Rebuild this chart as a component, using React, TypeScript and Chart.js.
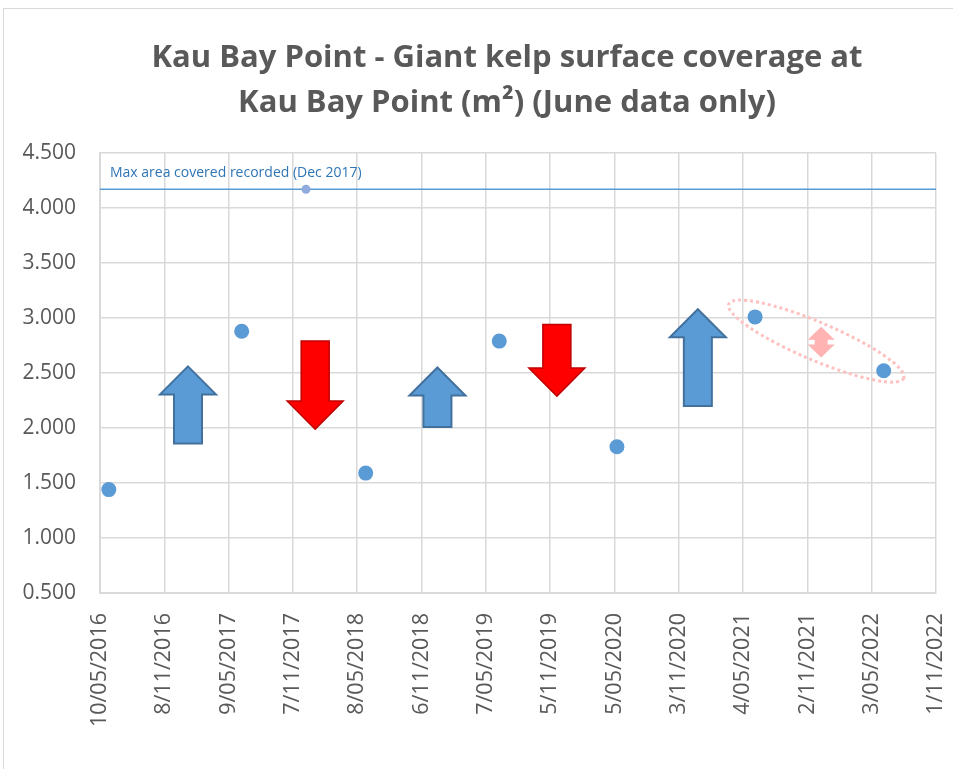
import React, { useEffect, useRef } from 'react';
import { Chart, registerables } from 'chart.js';

Chart.register(...registerables);

// ---------- data ----------
const titleLines = ['Kau Bay Point - Giant kelp surface coverage at', 'Kau Bay Point (m²) (June data only)'];

const axisStart = '2016-05-10';
const axisEnd = '2022-11-01';
const tickStepDays = 182;
const yMin = 0.5;
const yMax = 4.5;
const yStep = 0.5;

const sampleDates = ['2016-06-04', '2017-06-15', '2018-06-01', '2019-06-14', '2020-05-12', '2021-06-07', '2022-06-06'];
const sampleValues = [1.44, 2.88, 1.59, 2.79, 1.83, 3.01, 2.52];

const maxLabel = 'Max area covered recorded (Dec 2017)';
const maxDate = '2017-12-14';
const maxValue = 4.17;

// trend arrows (annotations): date of arrow centre, tail value, tip value
const arrowDates = ['2017-01-14', '2018-01-09', '2018-12-21', '2019-11-24', '2020-12-27'];
const arrowTails = [1.86, 2.79, 2.01, 2.94, 2.2];
const arrowTips = [2.56, 1.99, 2.55, 2.29, 3.08];

// stable change marker (ellipse + up/down arrow)
const ellipseDate = '2021-11-27';
const ellipseValue = 2.79;
const stableDate = '2021-12-11';
const stableTop = 2.92;
const stableBottom = 2.64;

// ---------- helpers ----------
const DAY = 86400000;
const toMs = (s: string) => {
  const [y, m, d] = s.split('-').map(Number);
  return Date.UTC(y, m - 1, d);
};
const startMs = toMs(axisStart);
const dayOf = (s: string) => Math.round((toMs(s) - startMs) / DAY);
const fmtDate = (v: number) => {
  const d = new Date(startMs + Math.round(v) * DAY);
  return `${d.getUTCDate()}/${String(d.getUTCMonth() + 1).padStart(2, '0')}/${d.getUTCFullYear()}`;
};

const FONT = '"Open Sans", "Noto Sans", sans-serif';
const TEXT_COLOR = '#595959';
const GRID_COLOR = '#D9D9D9';
const BLUE = '#5B9BD5';

const annotationPlugin = {
  id: 'kelpAnnotations',
  afterDatasetsDraw(chart: any) {
    const { ctx, scales, chartArea } = chart;
    const xs = scales.x;
    const ys = scales.y;
    ctx.save();

    // max label
    const yLine = ys.getPixelForValue(maxValue);
    ctx.font = `14px ${FONT}`;
    ctx.fillStyle = '#2E75B6';
    ctx.textAlign = 'left';
    ctx.textBaseline = 'middle';
    ctx.fillText(maxLabel, chartArea.left + 10, yLine - 16);

    // arrows
    const shaftHalf = 14;
    const headHalf = 28;
    const headLen = 28;
    arrowDates.forEach((d, i) => {
      const cx = xs.getPixelForValue(dayOf(d));
      const yTail = ys.getPixelForValue(arrowTails[i]);
      const yTip = ys.getPixelForValue(arrowTips[i]);
      const s = yTip > yTail ? 1 : -1; // 1 = pointing down
      const base = yTip - s * headLen;
      ctx.beginPath();
      ctx.moveTo(cx, yTip);
      ctx.lineTo(cx + headHalf, base);
      ctx.lineTo(cx + shaftHalf, base);
      ctx.lineTo(cx + shaftHalf, yTail);
      ctx.lineTo(cx - shaftHalf, yTail);
      ctx.lineTo(cx - shaftHalf, base);
      ctx.lineTo(cx - headHalf, base);
      ctx.closePath();
      const up = s < 0;
      ctx.fillStyle = up ? BLUE : '#FF0000';
      ctx.fill();
      ctx.lineJoin = 'miter';
      ctx.lineWidth = up ? 2 : 1.5;
      ctx.strokeStyle = up ? '#41719C' : '#C00000';
      ctx.stroke();
    });

    // ellipse
    const ex = xs.getPixelForValue(dayOf(ellipseDate));
    const ey = ys.getPixelForValue(ellipseValue);
    ctx.beginPath();
    ctx.ellipse(ex, ey, 95, 19, (23 * Math.PI) / 180, 0, Math.PI * 2);
    ctx.setLineDash([3, 3]);
    ctx.lineWidth = 3;
    ctx.strokeStyle = '#FFC0C0';
    ctx.stroke();
    ctx.setLineDash([]);

    // up-down arrow
    const sx = xs.getPixelForValue(dayOf(stableDate));
    const st = ys.getPixelForValue(stableTop);
    const sb = ys.getPixelForValue(stableBottom);
    const hh = 13;
    const hw = 13.5;
    const sw = 6.5;
    ctx.beginPath();
    ctx.moveTo(sx, st);
    ctx.lineTo(sx + hw, st + hh);
    ctx.lineTo(sx + sw, st + hh);
    ctx.lineTo(sx + sw, sb - hh);
    ctx.lineTo(sx + hw, sb - hh);
    ctx.lineTo(sx, sb);
    ctx.lineTo(sx - hw, sb - hh);
    ctx.lineTo(sx - sw, sb - hh);
    ctx.lineTo(sx - sw, st + hh);
    ctx.lineTo(sx - hw, st + hh);
    ctx.closePath();
    ctx.fillStyle = '#FFB3B3';
    ctx.fill();

    ctx.restore();
  },
  afterDraw(chart: any) {
    const { ctx } = chart;
    ctx.save();
    ctx.font = `bold 31px ${FONT}`;
    ctx.fillStyle = TEXT_COLOR;
    ctx.textAlign = 'center';
    ctx.textBaseline = 'alphabetic';
    ctx.fillText(titleLines[0], chart.width / 2, 58);
    ctx.fillText(titleLines[1], chart.width / 2, 103);
    ctx.restore();
  },
};

export default function App() {
  const ref = useRef<HTMLCanvasElement>(null);

  useEffect(() => {
    if (!ref.current) return;
    const xMax = dayOf(axisEnd);
    const chart = new Chart(ref.current, {
      type: 'scatter',
      data: {
        datasets: [
          {
            label: 'Max line',
            data: [
              { x: 0, y: maxValue },
              { x: xMax, y: maxValue },
            ],
            showLine: true,
            borderColor: BLUE,
            borderWidth: 1.5,
            pointRadius: 0,
            order: 3,
          },
          {
            label: 'Max point',
            data: [{ x: dayOf(maxDate), y: maxValue }],
            backgroundColor: '#8FAADC',
            borderWidth: 0,
            pointRadius: 4.5,
            order: 2,
          },
          {
            label: 'Surface coverage',
            data: sampleDates.map((d, i) => ({ x: dayOf(d), y: sampleValues[i] })),
            backgroundColor: BLUE,
            borderWidth: 0,
            pointRadius: 7.5,
            order: 1,
          },
        ],
      },
      options: {
        responsive: false,
        animation: false,
        devicePixelRatio: 1,
        layout: { padding: { left: 0, right: 74, top: 144, bottom: 0 } },
        plugins: {
          legend: { display: false },
          tooltip: { enabled: false },
          title: { display: false },
        },
        scales: {
          x: {
            type: 'linear',
            min: 0,
            max: xMax,
            grid: { color: GRID_COLOR, lineWidth: 1.5, drawTicks: false },
            border: { color: GRID_COLOR, width: 2 },
            ticks: {
              stepSize: tickStepDays,
              autoSkip: false,
              maxRotation: 90,
              minRotation: 90,
              padding: 20,
              color: TEXT_COLOR,
              font: { family: FONT, size: 21.5 },
              callback: (v: any) => fmtDate(Number(v)),
            },
            afterFit: (s: any) => {
              s.height = 176;
            },
          },
          y: {
            min: yMin,
            max: yMax,
            grid: { color: GRID_COLOR, lineWidth: 1.5, drawTicks: false },
            border: { color: GRID_COLOR, width: 2 },
            ticks: {
              stepSize: yStep,
              padding: 24,
              color: TEXT_COLOR,
              font: { family: FONT, size: 21 },
              callback: (v: any) => Number(v).toFixed(3),
            },
            afterFit: (s: any) => {
              s.width = 96;
            },
          },
        },
      },
      plugins: [annotationPlugin],
    });
    return () => chart.destroy();
  }, []);

  return (
    <div style={{ position: 'absolute', left: 0, top: 0, width: 953, height: 769, overflow: 'hidden', background: '#fff' }}>
      <div
        style={{
          position: 'absolute',
          left: 3,
          top: 8,
          width: 1010,
          height: 800,
          borderLeft: '1px solid #D9D9D9',
          borderTop: '1px solid #D9D9D9',
          background: '#fff',
        }}
      >
        <canvas ref={ref} width={1006} height={760} style={{ display: 'block' }} />
      </div>
    </div>
  );
}
